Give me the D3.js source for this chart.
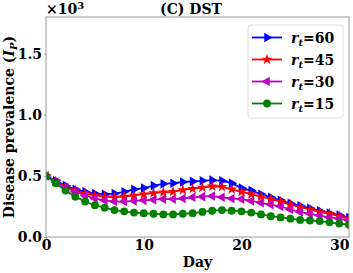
<!DOCTYPE html>
<html>
<head>
<meta charset="utf-8">
<script src="https://cdn.jsdelivr.net/npm/d3@7.9.0/dist/d3.min.js"></script>
<style>
  body { margin: 0; background: #fff; }
  svg text { font-family: "DejaVu Serif", serif; font-weight: bold; }
</style>
</head>
<body>
<div id="viz"></div>
<script>
// days 0..31
const days = d3.range(0, 32);

// disease prevalence for each r_t
const rt60 = [500, 460, 420, 390, 370, 355, 350, 355, 370, 390, 400, 420, 435, 440, 450, 455,
              460, 465, 460, 440, 400, 380, 350, 325, 300, 275, 255, 235, 215, 195, 180, 160];
const rt45 = [500, 455, 410, 380, 355, 340, 330, 325, 330, 340, 350, 360, 365, 370, 385, 395,
              405, 415, 410, 390, 370, 350, 330, 310, 290, 265, 245, 225, 205, 190, 170, 150];
const rt30 = [500, 450, 405, 370, 340, 315, 300, 290, 290, 295, 300, 305, 310, 310, 315, 325,
              330, 335, 325, 315, 310, 295, 280, 265, 250, 225, 205, 190, 175, 160, 150, 135];
const rt15 = [500, 440, 380, 330, 290, 260, 240, 220, 210, 200, 195, 190, 185, 185, 190, 195,
              205, 215, 220, 215, 210, 200, 185, 170, 160, 150, 140, 135, 130, 120, 110, 100];

const xTicks = [0, 10, 20, 30];
const yTicks = [0, 500, 1000, 1500];

const series = [
  { label: "60", values: rt60, color: "#0000ff", marker: "right" },
  { label: "45", values: rt45, color: "#ff0000", marker: "star" },
  { label: "30", values: rt30, color: "#bf00bf", marker: "left" },
  { label: "15", values: rt15, color: "#008000", marker: "circle" }
];

const width = 353, height = 273;
const margin = { top: 17, right: 4, bottom: 36, left: 46 };
const innerW = width - margin.left - margin.right;
const innerH = height - margin.top - margin.bottom;

const svg = d3.select("#viz").append("svg")
  .attr("width", width)
  .attr("height", height);

const x = d3.scaleLinear().domain([0, 31]).range([margin.left, margin.left + innerW]);
const y = d3.scaleLinear().domain([0, 1800]).range([margin.top + innerH, margin.top]);

svg.append("clipPath").attr("id", "clip")
  .append("rect")
  .attr("x", margin.left).attr("y", margin.top)
  .attr("width", innerW).attr("height", innerH);

// marker shapes
function markerPath(type) {
  if (type === "circle") return d3.symbol(d3.symbolCircle, 48)();
  if (type === "star") return d3.symbol(d3.symbolStar, 38)();
  return d3.symbol(d3.symbolTriangle, 40)();
}
function markerRotate(type) {
  if (type === "right") return 90;
  if (type === "left") return -90;
  return 0;
}

const plot = svg.append("g").attr("clip-path", "url(#clip)");

const line = d3.line()
  .x((d, i) => x(days[i]))
  .y(d => y(d));

series.forEach(s => {
  const g = plot.append("g");
  g.append("path")
    .datum(s.values)
    .attr("fill", "none")
    .attr("stroke", s.color)
    .attr("stroke-width", 1.8)
    .attr("d", line);
  g.selectAll("path.m")
    .data(s.values)
    .join("path")
    .attr("class", "m")
    .attr("d", markerPath(s.marker))
    .attr("fill", s.color)
    .attr("transform", (d, i) => `translate(${x(days[i])},${y(d)}) rotate(${markerRotate(s.marker)})`);
});

// frame
svg.append("rect")
  .attr("x", margin.left).attr("y", margin.top)
  .attr("width", innerW).attr("height", innerH)
  .attr("fill", "none")
  .attr("stroke", "#999")
  .attr("stroke-width", 1);

// x axis
const xAxis = svg.append("g")
  .attr("transform", `translate(0,${margin.top + innerH})`)
  .call(d3.axisBottom(x).tickValues(xTicks).tickSize(2).tickPadding(1));
xAxis.select(".domain").remove();
xAxis.selectAll("line").attr("stroke", "#999");
xAxis.selectAll("text")
  .attr("font-size", 14)
  .attr("fill", "#000")
  .style("font-family", "DejaVu Serif")
  .style("font-weight", "bold");

// y axis
const yAxis = svg.append("g")
  .attr("transform", `translate(${margin.left},0)`)
  .call(d3.axisLeft(y).tickValues(yTicks).tickSize(2).tickPadding(2)
    .tickFormat(d => (d / 1000).toFixed(1)));
yAxis.select(".domain").remove();
yAxis.selectAll("line").attr("stroke", "#999");
yAxis.selectAll("text")
  .attr("font-size", 14)
  .attr("fill", "#000")
  .style("font-family", "DejaVu Serif")
  .style("font-weight", "bold");

// offset text
const off = svg.append("text")
  .attr("x", margin.left)
  .attr("y", 14)
  .attr("font-size", 14);
off.append("tspan").text("\u00d710");
off.append("tspan").attr("dy", -5).attr("font-size", 10).text("3");

// title
svg.append("text")
  .attr("x", 191)
  .attr("y", 14)
  .attr("text-anchor", "middle")
  .attr("font-size", 14)
  .text("(C) DST");

// x label
svg.append("text")
  .attr("x", margin.left + innerW / 2)
  .attr("y", 267)
  .attr("text-anchor", "middle")
  .attr("font-size", 14)
  .text("Day");

// y label
const yl = svg.append("text")
  .attr("transform", `translate(14,${margin.top + innerH / 2}) rotate(-90)`)
  .attr("text-anchor", "middle")
  .attr("font-size", 14);
yl.append("tspan").text("Disease prevalence (");
yl.append("tspan").attr("font-style", "italic").text("I");
yl.append("tspan").attr("font-style", "italic").attr("font-size", 10).attr("dy", 3).text("P");
yl.append("tspan").attr("dy", -3).text(")");

// legend
const legend = svg.append("g");
legend.append("rect")
  .attr("x", 248).attr("y", 25)
  .attr("width", 95).attr("height", 93)
  .attr("rx", 3)
  .attr("fill", "#fff").attr("fill-opacity", 0.8)
  .attr("stroke", "#ddd");

series.forEach((s, i) => {
  const cy = 37.5 + i * 22;
  legend.append("line")
    .attr("x1", 252).attr("x2", 282)
    .attr("y1", cy).attr("y2", cy)
    .attr("stroke", s.color).attr("stroke-width", 1.8);
  legend.append("path")
    .attr("d", markerPath(s.marker))
    .attr("fill", s.color)
    .attr("transform", `translate(267,${cy}) rotate(${markerRotate(s.marker)})`);
  const t = legend.append("text")
    .attr("x", 291).attr("y", cy + 5)
    .attr("font-size", 14);
  t.append("tspan").attr("font-style", "italic").text("r");
  t.append("tspan").attr("font-style", "italic").attr("font-size", 10).attr("dy", 3).text("t");
  t.append("tspan").attr("dy", -3).text("=" + s.label);
});
</script>
</body>
</html>
